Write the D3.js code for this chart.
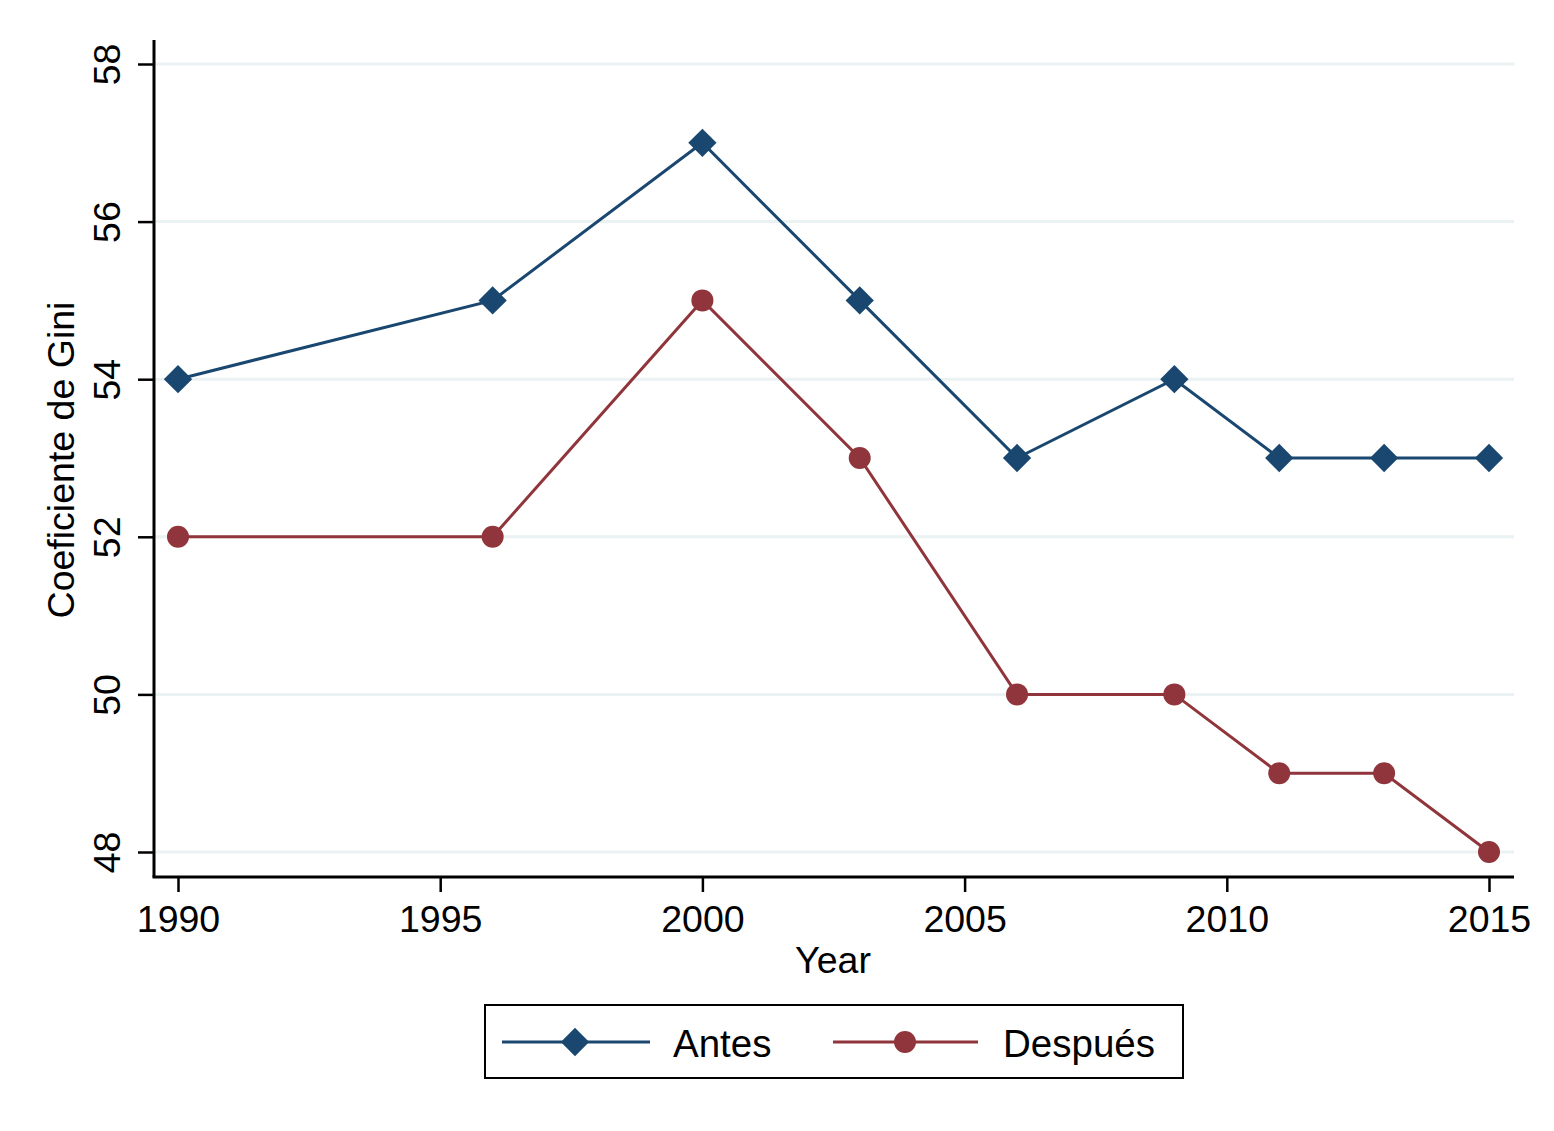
<!DOCTYPE html>
<html><head><meta charset="utf-8">
<script src="https://cdn.jsdelivr.net/npm/d3@7"></script>
<style>body{margin:0;background:#fff}svg{display:block;font-family:"Liberation Sans",Arial,Helvetica,sans-serif}</style>
</head><body><svg id="c" width="1554" height="1131"></svg>
<script>
const years = [1990, 1996, 2000, 2003, 2006, 2009, 2011, 2013, 2015];
const antes = [54, 55, 57, 55, 53, 54, 53, 53, 53];
const despues = [52, 52, 55, 53, 50, 50, 49, 49, 48];
const xTicks = [1990, 1995, 2000, 2005, 2010, 2015];
const yTicks = [48, 50, 52, 54, 56, 58];
const seriesNames = ["Antes", "Después"];

const svg = d3.select("#c");
svg.append("rect").attr("width",1554).attr("height",1131).attr("fill","#fff");
const x = d3.scaleLinear().domain([1990, 2015]).range([178, 1489]);
const y = d3.scaleLinear().domain([48, 58]).range([852, 64]);
const pLeft = 154, pRight = 1514, pTop = 40, pBottom = 877;
const blue = "#1a476f", red = "#90353b";
const fs = 37.5;

// gridlines
svg.append("g").selectAll("line").data(yTicks).join("line")
  .attr("x1", pLeft+1).attr("x2", pRight).attr("y1", d=>y(d)).attr("y2", d=>y(d))
  .attr("stroke", "#eaf2f3").attr("stroke-width", 3);

// axes
const yAxis = svg.append("g").attr("transform", `translate(${pLeft},0)`)
  .call(d3.axisLeft(y).tickValues(yTicks).tickSize(16).tickFormat(d3.format("d")));
yAxis.select(".domain").remove();
yAxis.append("line").attr("x1",0).attr("x2",0).attr("y1",pTop).attr("y2",pBottom).attr("stroke","#000").attr("stroke-width",3);
yAxis.selectAll(".tick line").attr("stroke","#000").attr("stroke-width",2.5);
yAxis.selectAll(".tick text").attr("font-size",fs).attr("fill","#000")
  .attr("text-anchor","middle").attr("x",0).attr("y",0).attr("dy",null)
  .attr("transform","translate(-47,0) rotate(-90)").attr("dominant-baseline","central");

const xAxis = svg.append("g").attr("transform", `translate(0,${pBottom})`)
  .call(d3.axisBottom(x).tickValues(xTicks).tickSize(15).tickFormat(d3.format("d")));
xAxis.select(".domain").remove();
xAxis.append("line").attr("x1",pLeft-1.5).attr("x2",pRight).attr("y1",0).attr("y2",0).attr("stroke","#000").attr("stroke-width",3);
xAxis.selectAll(".tick line").attr("stroke","#000").attr("stroke-width",2.5);
xAxis.selectAll(".tick text").attr("font-size",fs).attr("fill","#000").attr("y",55).attr("dy",null);

// titles
svg.append("text").attr("x", 833).attr("y", 973).attr("text-anchor","middle").attr("font-size",fs).text("Year");
svg.append("text").attr("transform","translate(74,460) rotate(-90)").attr("text-anchor","middle").attr("font-size",fs).text("Coeficiente de Gini");

// lines
const line = d3.line().x((d,i)=>x(years[i])).y(d=>y(d));
svg.append("path").datum(antes).attr("d", line).attr("fill","none").attr("stroke",blue).attr("stroke-width",3);
svg.append("path").datum(despues).attr("d", line).attr("fill","none").attr("stroke",red).attr("stroke-width",3);

const diamond = d3.symbol().type(d3.symbolSquare).size(400);
svg.append("g").selectAll("path").data(antes).join("path")
  .attr("d", diamond).attr("fill", blue)
  .attr("transform",(d,i)=>`translate(${x(years[i])},${y(d)}) rotate(45)`);
svg.append("g").selectAll("circle").data(despues).join("circle")
  .attr("cx",(d,i)=>x(years[i])).attr("cy",d=>y(d)).attr("r",11).attr("fill",red);

// legend
const lg = svg.append("g");
lg.append("rect").attr("x",485).attr("y",1005).attr("width",698).attr("height",73).attr("fill","#fff").attr("stroke","#000").attr("stroke-width",2);
lg.append("line").attr("x1",502).attr("x2",650).attr("y1",1042).attr("y2",1042).attr("stroke",blue).attr("stroke-width",3);
lg.append("path").attr("d",diamond).attr("fill",blue).attr("transform","translate(575,1042) rotate(45)");
lg.append("text").attr("x",673).attr("y",1057).attr("font-size",38.5).text(seriesNames[0]);
lg.append("line").attr("x1",833).attr("x2",978).attr("y1",1042).attr("y2",1042).attr("stroke",red).attr("stroke-width",3);
lg.append("circle").attr("cx",905).attr("cy",1042).attr("r",11).attr("fill",red);
lg.append("text").attr("x",1003).attr("y",1057).attr("font-size",38.5).text(seriesNames[1]);
</script></body></html>
